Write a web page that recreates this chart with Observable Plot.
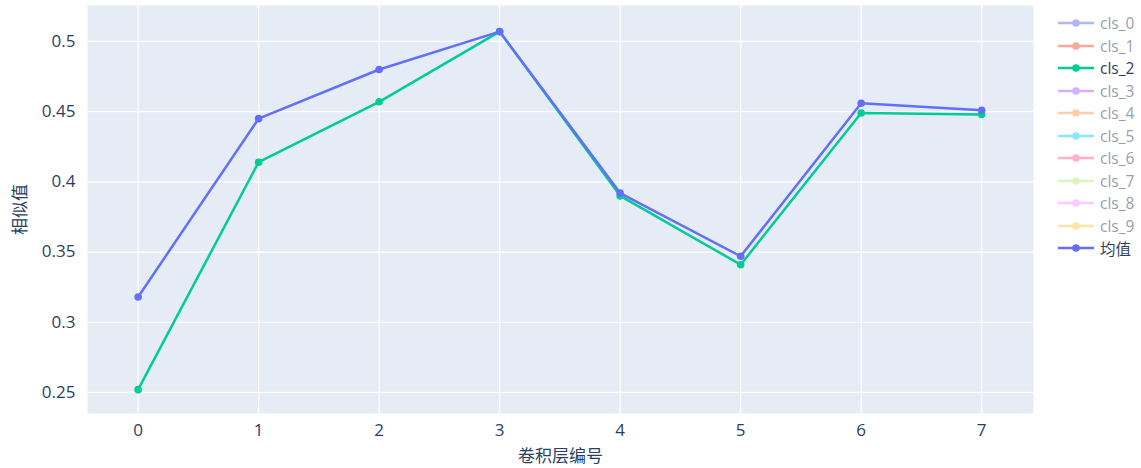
<!DOCTYPE html>
<html><head><meta charset="utf-8">
<script src="https://cdn.jsdelivr.net/npm/d3@7"></script>
<script src="https://cdn.jsdelivr.net/npm/@observablehq/plot@0.6"></script>
<style>
body{margin:0;background:#fff;font-family:"Open Sans","Noto Sans CJK SC",sans-serif;}
#wrap{position:relative;width:1141px;height:468px;}
#legend{position:absolute;left:1058px;top:12px;}
.li{display:flex;align-items:center;height:22.5px;font-size:15.5px;color:#2a3f5f;}
.li svg{margin-right:6px;}
.off{opacity:0.5;}
</style></head>
<body><div id="wrap"><div id="chart"></div><div id="legend"></div></div>
<script>
const layers = [0, 1, 2, 3, 4, 5, 6, 7];
const cls2 = [0.252, 0.414, 0.457, 0.507, 0.390, 0.341, 0.449, 0.448];
const meanVals = [0.318, 0.445, 0.480, 0.507, 0.392, 0.347, 0.456, 0.451];
const legendNames = ["cls_0","cls_1","cls_2","cls_3","cls_4","cls_5","cls_6","cls_7","cls_8","cls_9","均值"];
const legendColors = ["#636efa","#EF553B","#00cc96","#ab63fa","#FFA15A","#19d3f3","#FF6692","#B6E880","#FF97FF","#FECB52","#636efa"];
const legendVisible = [false,false,true,false,false,false,false,false,false,false,true];
const yTicks = [0.25, 0.3, 0.35, 0.4, 0.45, 0.5];

const series = [
  {name: "cls_2", values: cls2, color: legendColors[2]},
  {name: "均值", values: meanVals, color: legendColors[10]}
];
const rows = series.flatMap(s => layers.map((l, i) => ({layer: l, value: s.values[i], name: s.name, color: s.color})));

const chart = Plot.plot({
  width: 1141, height: 468,
  marginLeft: 87, marginRight: 108, marginTop: 5, marginBottom: 55,
  style: {fontFamily: "'Open Sans', 'Noto Sans CJK SC', sans-serif", fontSize: "15px", color: "#2a3f5f"},
  x: {domain: [-0.42, 7.43], ticks: layers},
  y: {domain: [0.235, 0.5256], ticks: yTicks},
  marks: [
    Plot.frame({fill: "#e5ecf6", stroke: null}),
    Plot.gridX(layers, {stroke: "#fff", strokeOpacity: 1, strokeWidth: 1.2}),
    Plot.gridY(yTicks, {stroke: "#fff", strokeOpacity: 1, strokeWidth: 1.2}),
    Plot.axisX(layers, {tickSize: 0, tickPadding: 10, fontSize: 15, fill: "#2a3f5f", label: "卷积层编号", labelArrow: "none", labelAnchor: "center", labelOffset: 48, tickFormat: d => String(d)}),
    Plot.axisY(yTicks, {tickSize: 0, tickPadding: 12, fontSize: 15, fill: "#2a3f5f", label: "相似值", labelArrow: "none", labelAnchor: "center", labelOffset: 74, tickFormat: d => String(d)}),
    Plot.line(rows, {x: "layer", y: "value", z: "name", stroke: "color", strokeWidth: 2.5}),
    Plot.dot(rows, {x: "layer", y: "value", fill: "color", r: 3.8, stroke: null})
  ]
});
document.getElementById("chart").appendChild(chart);
chart.querySelectorAll("[aria-label$='axis label'] text, g[aria-label$='label'] text").forEach(t => { t.style.fontSize = "17px"; t.setAttribute("fill", "#2a3f5f"); });

const legend = document.getElementById("legend");
legendNames.forEach((n, i) => {
  const d = document.createElement("div");
  d.className = "li" + (legendVisible[i] ? "" : " off");
  d.innerHTML = `<svg width="36" height="10"><line x1="0" x2="36" y1="5" y2="5" stroke="${legendColors[i]}" stroke-width="2.5"/><circle cx="18" cy="5" r="3.8" fill="${legendColors[i]}"/></svg>`;
  const s = document.createElement("span"); s.textContent = n; d.appendChild(s);
  legend.appendChild(d);
});
</script></body></html>
